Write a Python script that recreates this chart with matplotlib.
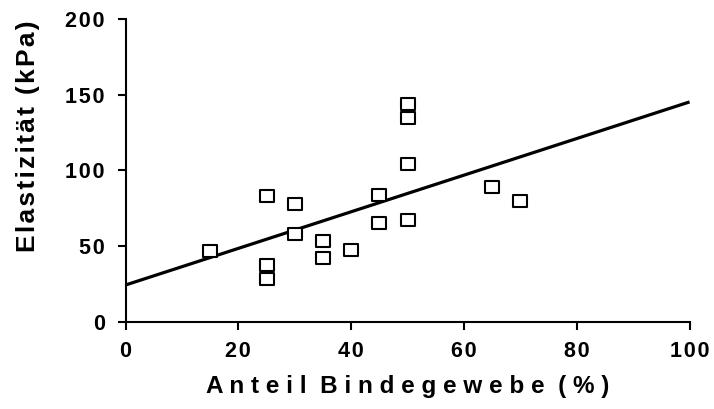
import numpy as np
import matplotlib
matplotlib.use("Agg")
import matplotlib.pyplot as plt
from matplotlib.path import Path

# Data
bindegewebe = [15, 25, 25, 25, 30, 30, 35, 35, 40, 45, 45, 50, 50, 50, 50, 65, 70]
elastizitaet = [47, 83, 37.5, 28, 77.5, 58, 53.5, 42, 47.5, 83.5, 65, 144, 134.5, 104, 67, 89, 80]

x_ticks = [0, 20, 40, 60, 80, 100]
y_ticks = [0, 50, 100, 150, 200]
x_label = "Anteil Bindegewebe (%)"
y_label = "Elastizität (kPa)"

plt.rcParams['font.family'] = ['Liberation Sans', 'DejaVu Sans']
plt.rcParams['font.weight'] = 'bold'


def spaced(text, sep=" "):
    # fake letter spacing
    return (sep * 2).join(sep.join(w) for w in text.split(" "))


# wide flat box marker
box = Path([(-1.25, -1), (1.25, -1), (1.25, 1), (-1.25, 1), (-1.25, -1)],
           [Path.MOVETO, Path.LINETO, Path.LINETO, Path.LINETO, Path.CLOSEPOLY])

fig = plt.figure(figsize=(7.14, 4.09), dpi=100)
ax = fig.add_axes([0.1758, 0.2134, 0.79, 0.7401])

# linear regression line over the full x range
slope, intercept = np.polyfit(bindegewebe, elastizitaet, 1)
xx = np.array([0, 100])
ax.plot(xx, intercept + slope * xx, color="black", lw=2.3, solid_capstyle="butt", zorder=2)

ax.plot(bindegewebe, elastizitaet, linestyle="none", marker=box, markersize=10.5,
        markerfacecolor="white", markeredgecolor="black", markeredgewidth=1.5, zorder=3)

ax.set_xlim(0, 100)
ax.set_ylim(0, 200)
ax.set_xticks(x_ticks, labels=[spaced(str(v), "\u200a") for v in x_ticks],
              fontsize=15.5, fontweight="bold")
ax.set_yticks(y_ticks, labels=[spaced(str(v), "\u200a") for v in y_ticks],
              fontsize=15.5, fontweight="bold")

for side in ["top", "right"]:
    ax.spines[side].set_visible(False)
for side in ["left", "bottom"]:
    ax.spines[side].set_linewidth(1.5)
ax.tick_params(axis="both", direction="out", length=6, width=1.5)
ax.tick_params(axis="y", pad=9)
ax.tick_params(axis="x", pad=8)

ax.set_xlabel(spaced(x_label), fontsize=17.5, fontweight="bold", labelpad=9)
ax.set_ylabel("\u200a".join(y_label), fontsize=19, fontweight="bold")
ax.yaxis.label.set_verticalalignment("center")
ax.yaxis.set_label_coords(-0.173, 0.612)

fig.savefig("out.png", dpi=100)
